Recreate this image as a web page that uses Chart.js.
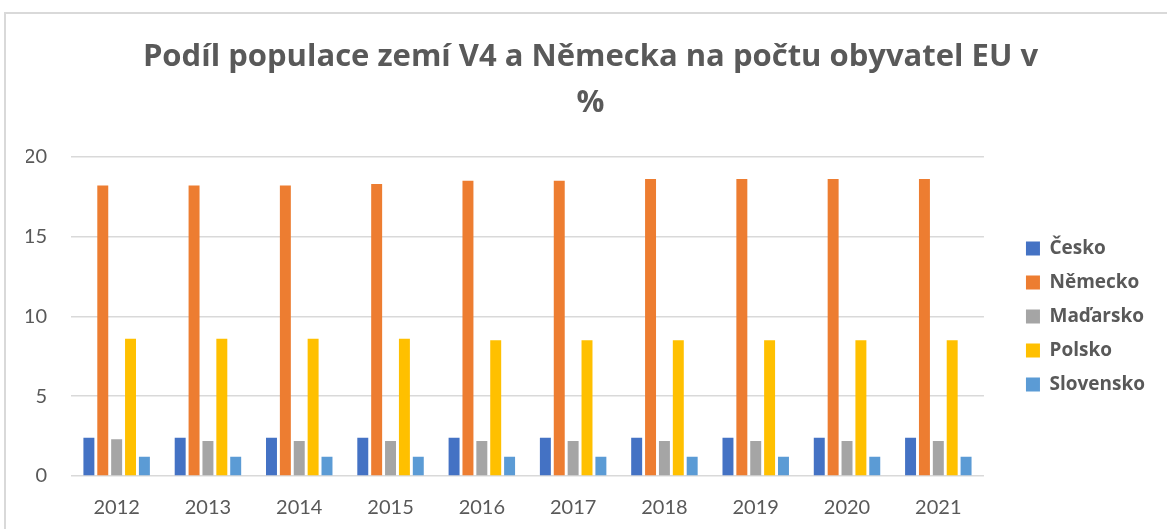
<!DOCTYPE html>
<html lang="cs">
<head>
<meta charset="utf-8">
<title>Podíl populace zemí V4 a Německa</title>
<script src="https://cdn.jsdelivr.net/npm/chart.js@4"></script>
<style>
  html, body { margin: 0; padding: 0; background: #fff; overflow: hidden; }
  #ramecek {
    position: absolute; left: 4px; top: 12px;
    width: 1200px; height: 600px;
    border: 2px solid #d9d9d9; box-sizing: border-box;
  }
  #obal { position: absolute; left: 0; top: 0; width: 1167px; height: 529px; }
</style>
</head>
<body>
<div id="ramecek"></div>
<div id="obal"><canvas id="graf"></canvas></div>
<script>
// Data
const roky = ['2012', '2013', '2014', '2015', '2016', '2017', '2018', '2019', '2020', '2021'];
const cesko     = [2.4, 2.4, 2.4, 2.4, 2.4, 2.4, 2.4, 2.4, 2.4, 2.4];
const nemecko   = [18.2, 18.2, 18.2, 18.3, 18.5, 18.5, 18.6, 18.6, 18.6, 18.6];
const madarsko  = [2.3, 2.2, 2.2, 2.2, 2.2, 2.2, 2.2, 2.2, 2.2, 2.2];
const polsko    = [8.6, 8.6, 8.6, 8.6, 8.5, 8.5, 8.5, 8.5, 8.5, 8.5];
const slovensko = [1.2, 1.2, 1.2, 1.2, 1.2, 1.2, 1.2, 1.2, 1.2, 1.2];

const SERIE = [
  { nazev: 'Česko', data: cesko, barva: '#4472C4' },
  { nazev: 'Německo', data: nemecko, barva: '#ED7D31' },
  { nazev: 'Maďarsko', data: madarsko, barva: '#A5A5A5' },
  { nazev: 'Polsko', data: polsko, barva: '#FFC000' },
  { nazev: 'Slovensko', data: slovensko, barva: '#5B9BD5' }
];

const SEDA_TEXT = '#595959';
const PISMO = 'Lato, "Open Sans", sans-serif';
const PISMO_TUCNE = '"Open Sans", Lato, sans-serif';

const ctx = document.getElementById('graf').getContext('2d');

new Chart(ctx, {
  type: 'bar',
  data: {
    labels: roky,
    datasets: SERIE.map(s => ({
      label: s.nazev,
      data: s.data,
      backgroundColor: s.barva,
      borderWidth: 0,
      categoryPercentage: 0.76,
      barPercentage: 0.79
    }))
  },
  options: {
    responsive: true,
    maintainAspectRatio: false,
    animation: false,
    layout: { padding: { left: 26, right: 12, top: 0, bottom: 0 } },
    plugins: {
      title: {
        display: true,
        text: ['Podíl populace zemí V4 a Německa na počtu obyvatel EU v', '%'],
        color: SEDA_TEXT,
        font: { size: 31, weight: 'bold', family: PISMO_TUCNE, lineHeight: 1.48 },
        padding: { top: 34, bottom: 31 }
      },
      legend: {
        position: 'right',
        fullSize: false,
        labels: {
          color: SEDA_TEXT,
          font: { size: 19, weight: 'bold', family: PISMO_TUCNE },
          boxWidth: 14,
          boxHeight: 14,
          padding: 15
        }
      },
      tooltip: { enabled: false }
    },
    scales: {
      x: {
        grid: { display: false },
        border: { display: false },
        ticks: {
          color: SEDA_TEXT,
          font: { size: 20, family: PISMO },
          padding: 12
        },
        afterFit: (scale) => { scale.height = 53; }
      },
      y: {
        min: 0,
        max: 20,
        ticks: {
          stepSize: 5,
          color: SEDA_TEXT,
          font: { size: 20, family: PISMO },
          padding: 24
        },
        grid: { color: '#d9d9d9', lineWidth: 1.5, drawTicks: false },
        border: { display: false },
        afterFit: (scale) => { scale.width = 45; }
      },
      // prázdná osa jen jako mezera mezi grafem a legendou
      mezera: {
        position: 'right',
        display: true,
        grid: { display: false },
        border: { display: false },
        ticks: { display: false },
        afterFit: (scale) => { scale.width = 27; }
      }
    }
  }
});
</script>
</body>
</html>
